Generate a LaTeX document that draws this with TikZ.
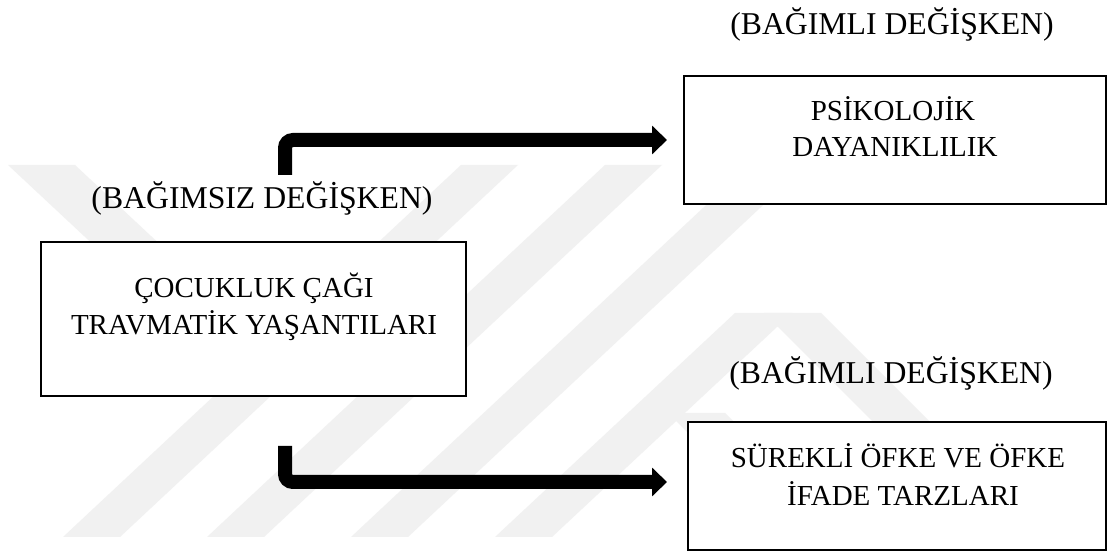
\documentclass[tikz,border=0pt]{standalone}
\usepackage{fontspec}
\setmainfont{Liberation Serif}
\usetikzlibrary{arrows.meta}
\definecolor{wmark}{gray}{0.945}
\tikzset{
  boxnode/.style={draw=black, line width=1.5pt, fill=white, inner sep=0pt},
  boxtext/.style={anchor=base, inner sep=0pt, font=\fontsize{21.75pt}{26pt}\selectfont},
  labeltext/.style={anchor=base, inner sep=0pt, font=\fontsize{23.8pt}{28pt}\selectfont},
  flowarrow/.style={line width=10.5pt, rounded corners=6pt, -{Triangle[length=11.25pt, width=21pt]}},
  wm/.style={fill=wmark, draw=none}
}
\begin{document}
\begin{tikzpicture}[x=0.75pt, y=-0.75pt]
\useasboundingbox (0,0) rectangle (1108,552);
\fill[white] (0,0) rectangle (1108,552);
% watermark bands
\fill[wm] (8,165) -- (75,165) -- (273,350) -- (206,350) -- cycle;
\fill[wm] (63,537) -- (120,537) -- (518,165) -- (461,165) -- cycle;
\fill[wm] (207,537) -- (264,537) -- (662,165) -- (605,165) -- cycle;
\fill[wm] (351,537) -- (408,537) -- (806,165) -- (749,165) -- cycle;
\fill[wm] (495,537) -- (552,537) -- (792,313) -- (735,313) -- cycle;
\fill[wm] (764,313) -- (821,313) -- (930,422) -- (873,422) -- cycle;
\fill[wm] (668,413) -- (725,413) -- (764,452) -- (707,452) -- cycle;
% boxes
\node[boxnode, minimum width=425*0.75pt, minimum height=154*0.75pt] (ind) at (253.5,319) {};
\node[boxnode, minimum width=422*0.75pt, minimum height=128*0.75pt] (res) at (894.5,140) {};
\node[boxnode, minimum width=418*0.75pt, minimum height=128*0.75pt] (ang) at (897,486) {};
% box texts
\node[boxtext] (inda) at (254,298) {ÇOCUKLUK ÇAĞI};
\node[boxtext] (indb) at (254,335) {TRAVMATİK YAŞANTILARI};
\node[boxtext] (resa) at (893,121) {PSİKOLOJİK};
\node[boxtext] (resb) at (895,157) {DAYANIKLILIK};
\node[boxtext] (anga) at (898,468) {SÜREKLİ ÖFKE VE ÖFKE};
\node[boxtext] (angb) at (903,506) {İFADE TARZLARI};
% labels
\node[labeltext] (lab1) at (892,35) {(BAĞIMLI DEĞİŞKEN)};
\node[labeltext] (lab2) at (262,209) {(BAĞIMSIZ DEĞİŞKEN)};
\node[labeltext] (lab3) at (891,384) {(BAĞIMLI DEĞİŞKEN)};
% arrows
\coordinate (s1) at (285,175);
\coordinate (e1) at (667,140);
\coordinate (s2) at (285,446);
\coordinate (e2) at (667,482);
\draw[flowarrow] (s1) |- (e1);
\draw[flowarrow] (s2) |- (e2);
\end{tikzpicture}
\end{document}
